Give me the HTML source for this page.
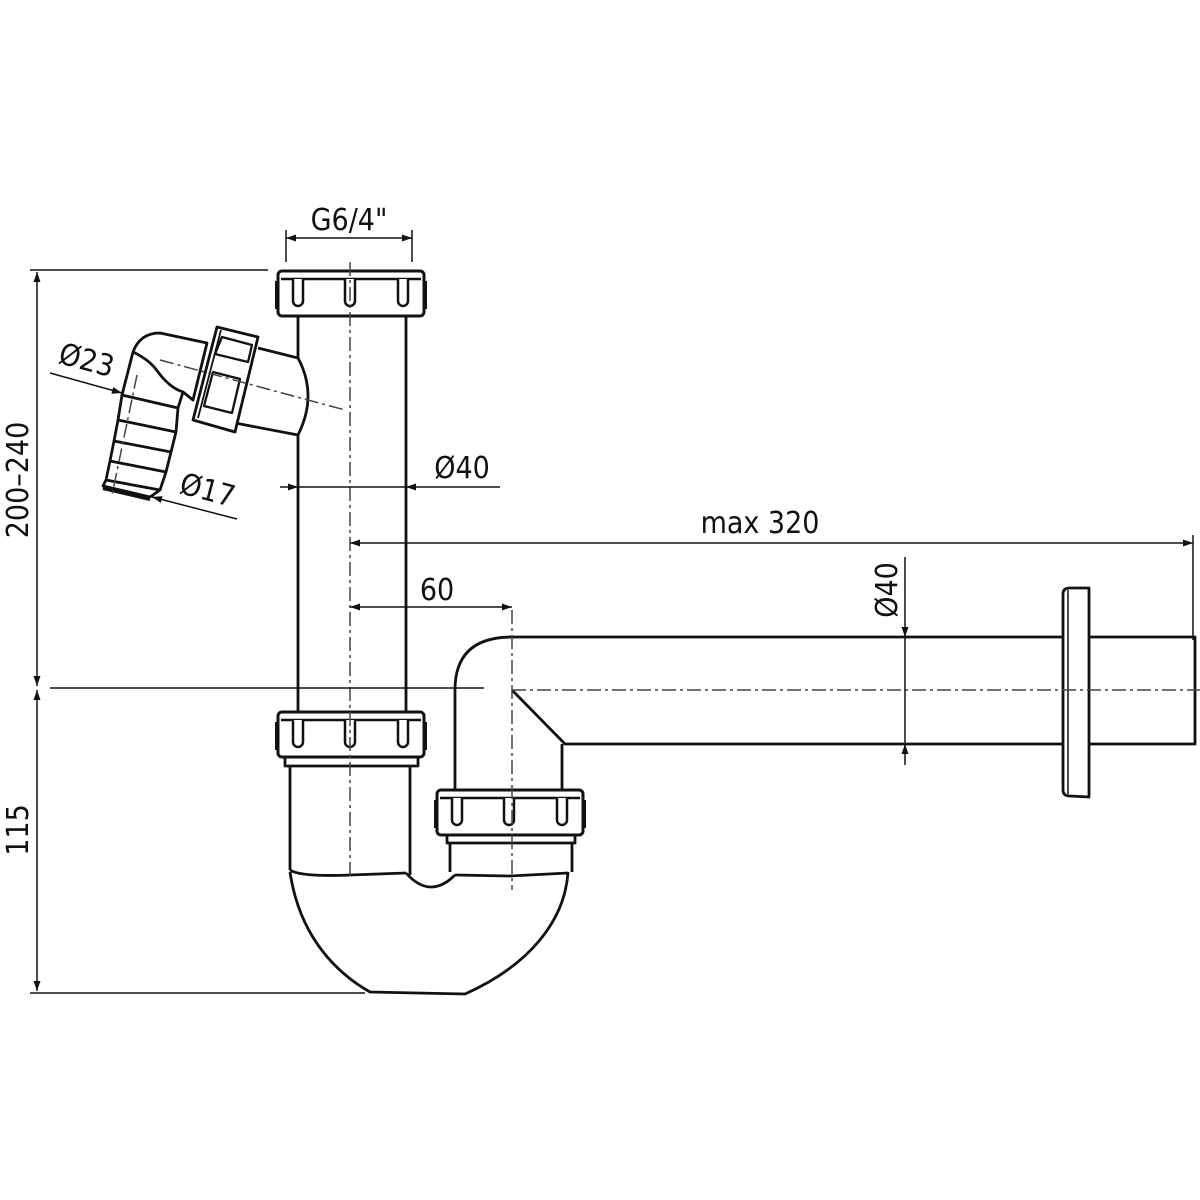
<!DOCTYPE html>
<html><head><meta charset="utf-8"><style>
html,body{margin:0;padding:0;background:#fff}
svg{display:block}
text{font-family:"DejaVu Sans Condensed","Liberation Sans",sans-serif;font-size:30px;fill:#111}
</style></head><body>
<svg width="1200" height="1200" viewBox="0 0 1200 1200" xmlns="http://www.w3.org/2000/svg">
<defs>
<marker id="a" viewBox="0 0 10 10" refX="10" refY="5" markerWidth="16" markerHeight="10" markerUnits="userSpaceOnUse" orient="auto-start-reverse"><path d="M0,1.5 L10,5 L0,8.5z" fill="#111"/></marker>
<g id="nut">
<rect x="0" y="0" width="146" height="45" rx="4" fill="#fff" stroke="#111" stroke-width="3"/>
<path d="M3,8 H143" stroke="#111" stroke-width="2.5" fill="none"/>
<path d="M15,8 V30 a5,5 0 0 0 10,0 V8 M67,8 V30 a5,5 0 0 0 10,0 V8 M120,8 V30 a5,5 0 0 0 10,0 V8" stroke="#111" stroke-width="2.5" fill="#fff"/>
<path d="M-2,10 V38 M148,10 V38" stroke="#111" stroke-width="2"/>
</g>
</defs>
<g fill="none" stroke="#111" stroke-width="2.8" stroke-linejoin="round">
<path d="M298,316 V712 M406,316 V712"/>
<path d="M258,348 L298,358 Q318,395 298,435 L235,423" fill="#fff"/>
<!-- elbow -->
<path d="M207,343 L160,333 Q140,333 133,352 L122,395 L178,408 L183,392 L193,400 Z" fill="#fff"/>
<path d="M133,352 Q150,360 158,372 Q170,388 183,392"/>
<!-- hose barb -->
<path d="M122,395 L118,420 L176,432 L178,408 M118,420 L114,441 L171,452 L176,432 M114,441 L110,461 L166,472 L171,452 M110,461 L106,480 L160,490 L166,472 M106,480 L103,486 L150,497 L160,490"/>
<path d="M103,488 L150,499" stroke-width="4"/>
<!-- branch nut -->
<path d="M217,327 L258,337 L235,432 L193,420 Z" fill="#fff"/>
<path d="M198,418 L221,330" stroke-width="1.8"/>
<path d="M222,337 L252,345 L248,362 L215,354 Z M213,372 L240,379 L232,413 L204,406 Z" stroke-width="2.3"/>
</g>
<use href="#nut" x="278" y="271"/>
<use href="#nut" x="278" y="712"/>
<use href="#nut" x="437" y="790"/>
<g fill="none" stroke="#111" stroke-width="2.8" stroke-linejoin="round">
<path d="M285,757 V766 H418 V757"/>
<path d="M447,835 V843 H575 V835"/>
<path d="M290,766 V870 M410,766 V875"/>
<path d="M450,843 V872 M572,843 V872"/>
<path d="M290,870 Q300,877 350,875 L406,873 M455,875 L510,876 L568,873"/>
<path d="M290,872 C300,940 340,975 370,992 L465,994 C530,965 565,920 568,872"/>
<path d="M406,873 Q430,900 455,875"/>
<path d="M455,790 V690 Q455,637 512,637 H1063 M1090,637 H1195 V744 H1090 M1063,744 H565 L512,690 M562,744 V790"/>
<path d="M1063,594 Q1063,588 1070,588 L1089,588 V797 L1070,796 Q1063,796 1063,790 Z" fill="#fff"/>
<path d="M1068,590 V794" stroke-width="1.5"/>
</g>
<g stroke="#444" stroke-width="1.5" stroke-dasharray="14,4,3,4" fill="none">
<path d="M350,262 V880"/>
<path d="M512,610 V890"/>
<path d="M512,690 H1200"/>
<path d="M160,360 L345,410"/>
<path d="M137,375 L112,495"/>
</g>
<g stroke="#111" stroke-width="1.5" fill="none">
<path d="M286,230 V262 M412,230 V262"/>
<path d="M286,238 H412" marker-start="url(#a)" marker-end="url(#a)"/>
<path d="M30,270 H268 M50,688 H484 M30,993 H365"/>
<path d="M37,272 V686" marker-start="url(#a)" marker-end="url(#a)"/>
<path d="M37,690 V991" marker-start="url(#a)" marker-end="url(#a)"/>
<path d="M280,487 H298" marker-end="url(#a)"/>
<path d="M500,487 H406" marker-end="url(#a)"/>
<path d="M298,487 H406"/>
<path d="M350,543 H1193" marker-start="url(#a)" marker-end="url(#a)"/>
<path d="M1193,535 V640"/>
<path d="M350,607 H512" marker-start="url(#a)" marker-end="url(#a)"/>
<path d="M905,557 V637" marker-end="url(#a)"/>
<path d="M905,765 V744" marker-end="url(#a)"/>
<path d="M905,637 V744"/>
<path d="M50,373 L122,393" marker-end="url(#a)"/>
<path d="M237,519 L152,497" marker-end="url(#a)"/>
</g>
<text x="349" y="230" text-anchor="middle">G6/4"</text>
<text x="462" y="478" text-anchor="middle">Ø40</text>
<text x="760" y="533" text-anchor="middle">max 320</text>
<text x="437" y="600" text-anchor="middle">60</text>
<text transform="translate(897,590) rotate(-90)" text-anchor="middle">Ø40</text>
<text transform="translate(28,480) rotate(-90)" text-anchor="middle">200–240</text>
<text transform="translate(28,830) rotate(-90)" text-anchor="middle">115</text>
<text transform="translate(84,370) rotate(15)" text-anchor="middle">Ø23</text>
<text transform="translate(205,500) rotate(15)" text-anchor="middle">Ø17</text>
</svg>
</body></html>
